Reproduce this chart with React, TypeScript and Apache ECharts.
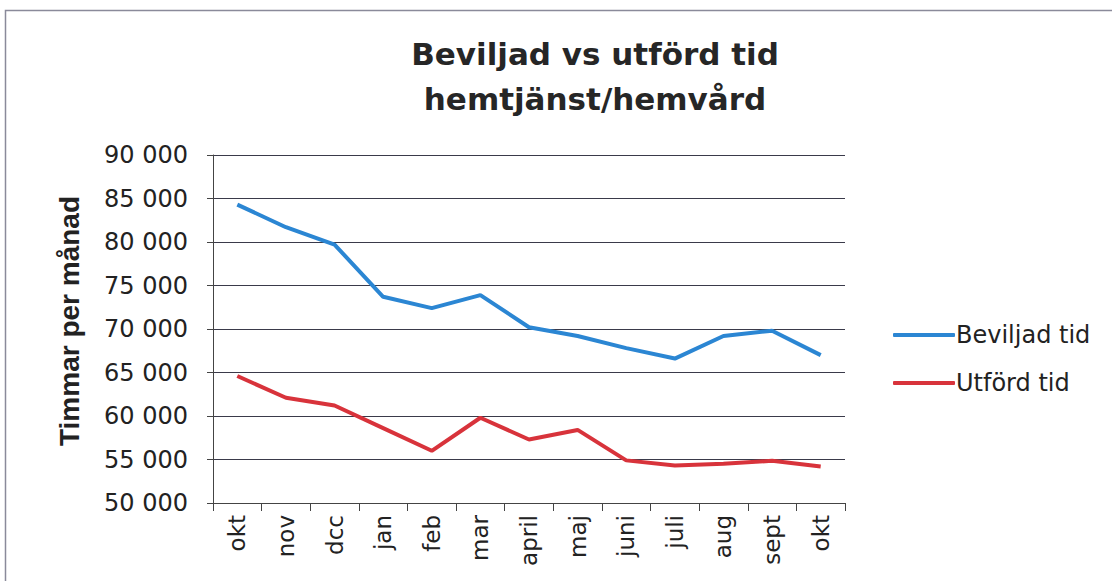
import React, { useEffect, useRef } from "react";
import * as echarts from "echarts";

const categories = ["okt", "nov", "dcc", "jan", "feb", "mar", "april", "maj", "juni", "juli", "aug", "sept", "okt"];
const beviljad = [84300, 81700, 79700, 73700, 72400, 73900, 70200, 69200, 67800, 66600, 69200, 69800, 67000];
const utford = [64600, 62100, 61200, 58600, 56000, 59800, 57300, 58400, 54900, 54300, 54500, 54850, 54200];
const seriesNames = ["Beviljad tid", "Utförd tid"];
const titleLines = ["Beviljad vs utförd tid", "hemtjänst/hemvård"];
const yAxisName = "Timmar per månad";

const fmt = (v: number) => {
  const s = String(Math.round(v));
  return s.replace(/\B(?=(\d{3})+(?!\d))/g, " ");
};

export default function App() {
  const ref = useRef<HTMLDivElement>(null);
  useEffect(() => {
    if (!ref.current) return;
    const chart = echarts.init(ref.current, null, { renderer: "svg" });
    const font = "'DejaVu Sans', sans-serif";
    chart.setOption({
      animation: false,
      backgroundColor: "#ffffff",
      title: {
        text: titleLines.join("\n"),
        left: 590,
        textAlign: "center",
        top: 26,
        textStyle: {
          fontFamily: font,
          fontSize: 31,
          fontWeight: "bold",
          color: "#262626",
          lineHeight: 45,
        },
      },
      legend: {
        orient: "vertical",
        left: 888,
        top: 318,
        itemGap: 24,
        itemWidth: 62,
        itemHeight: 4,
        icon: "roundRect",
        textStyle: { fontFamily: font, fontSize: 24, color: "#222", padding: [0, 0, 0, -4] },
        data: seriesNames,
      },
      grid: { left: 213, right: 267, top: 155, bottom: 78, containLabel: false },
      xAxis: {
        type: "category",
        data: categories,
        boundaryGap: true,
        axisLine: { lineStyle: { color: "#444", width: 1 } },
        axisTick: { show: true, length: 8, lineStyle: { color: "#444" }, interval: 0 },
        axisLabel: {
          rotate: 90,
          interval: 0,
          margin: 12,
          fontFamily: font,
          fontSize: 23,
          color: "#222",
        },
      },
      yAxis: {
        type: "value",
        min: 50000,
        max: 90000,
        interval: 5000,
        name: yAxisName,
        nameLocation: "middle",
        nameGap: 130,
        nameTextStyle: {
          fontFamily: "'Liberation Sans Narrow', 'Liberation Sans', sans-serif",
          fontSize: 28,
          fontWeight: "bold",
          color: "#222",
          padding: [0, 0, 0, 16],
        },
        axisLine: { show: true, lineStyle: { color: "#444", width: 1 } },
        axisTick: { show: true, length: 6, lineStyle: { color: "#444" } },
        splitLine: { show: true, lineStyle: { color: "#3a3a4a", width: 1 } },
        axisLabel: {
          formatter: (v: number) => fmt(v),
          margin: 25,
          fontFamily: font,
          fontSize: 24,
          color: "#222",
        },
      },
      series: [
        {
          name: seriesNames[0],
          type: "line",
          data: beviljad,
          showSymbol: false,
          symbol: "none",
          lineStyle: { color: "#2b86d3", width: 4 },
          itemStyle: { color: "#2b86d3" },
        },
        {
          name: seriesNames[1],
          type: "line",
          data: utford,
          showSymbol: false,
          symbol: "none",
          lineStyle: { color: "#d8333b", width: 4 },
          itemStyle: { color: "#d8333b" },
        },
      ],
      graphic: [
        {
          type: "rect",
          shape: { x: 5.5, y: 10.5, width: 1120, height: 590 },
          style: { fill: "none", stroke: "#8a8a9a", lineWidth: 1.5 },
          silent: true,
          z: -1,
        },
      ],
    });
    return () => chart.dispose();
  }, []);
  return (
    <div
      ref={ref}
      style={{ position: "fixed", left: 0, top: 0, width: 1112, height: 581 }}
    />
  );
}
